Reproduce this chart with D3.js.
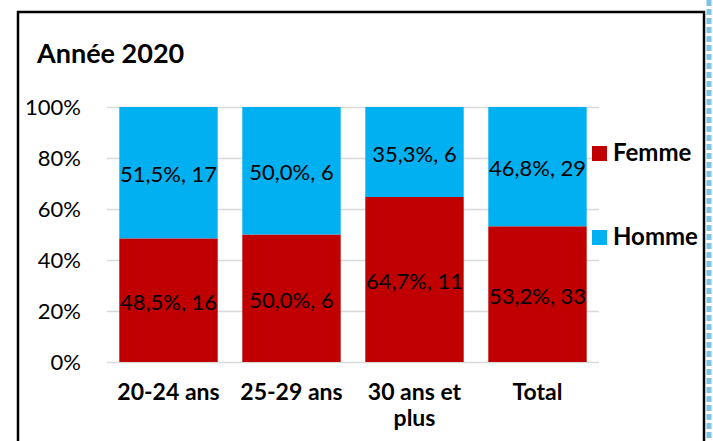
<!DOCTYPE html>
<html>
<head>
<meta charset="utf-8">
<script src="https://cdn.jsdelivr.net/npm/d3@7"></script>
<style>
  body { margin: 0; background: #fff; }
  svg text { font-family: Lato, "Open Sans", sans-serif; fill: #000; }
</style>
</head>
<body>
<div id="chart"></div>
<script>
// data
var categories = ['20-24 ans', '25-29 ans', '30 ans et plus', 'Total'];
var series = ['Femme', 'Homme'];
var femme = [16, 6, 11, 33];
var homme = [17, 6, 6, 29];
var yTicks = [0, 0.2, 0.4, 0.6, 0.8, 1];
var chartTitle = 'Année 2020';

var width = 713,
    height = 441,
    margin = { left: 107, right: 114, top: 107, bottom: 79 },
    colors = { Femme: '#c00000', Homme: '#00b0f0' };

var chartWidth = width - margin.left - margin.right;
var chartHeight = height - margin.top - margin.bottom;

var rows = categories.map(function (c, i) {
    return { key: c, Femme: femme[i], Homme: homme[i] };
});

var stacked = d3.stack()
    .keys(series)
    .order(d3.stackOrderNone)
    .offset(d3.stackOffsetExpand)(rows);

var fr = d3.formatLocale({ decimal: ',', thousands: ' ', grouping: [3], currency: ['', ' €'] });
var pct = fr.format('.1%');
var pct0 = fr.format('.0%');

var xScale = d3.scaleBand().domain(categories).range([0, chartWidth]).paddingInner(0.2).paddingOuter(0.1);
var yScale = d3.scaleLinear().domain([0, 1]).range([chartHeight, 0]);

var svg = d3.select('#chart').append('svg')
    .attr('width', width)
    .attr('height', height);

// outer frame
svg.append('rect')
    .attr('x', 18).attr('y', 12)
    .attr('width', 686).attr('height', 440)
    .attr('fill', 'none')
    .attr('stroke', '#000')
    .attr('stroke-width', 2.5);

// light blue decoration at the right edge
svg.append('line')
    .attr('x1', 709).attr('x2', 709)
    .attr('y1', 0).attr('y2', height)
    .attr('stroke', '#7cc4e6')
    .attr('stroke-width', 5)
    .attr('stroke-dasharray', '6,3');

svg.append('text')
    .attr('x', 37).attr('y', 63)
    .attr('font-size', 27)
    .attr('font-weight', 'bold')
    .text(chartTitle);

var g = svg.append('g')
    .attr('transform', 'translate(' + margin.left + ',' + margin.top + ')');

// gridlines
var yAxis = d3.axisLeft(yScale).tickValues(yTicks).tickSize(-chartWidth).tickPadding(26).tickFormat(pct0);
g.append('g').attr('class', 'axis y').call(yAxis)
    .call(function (a) {
        a.select('.domain').remove();
        a.selectAll('line').attr('stroke', '#d9d9d9').attr('stroke-width', 1.5);
        a.selectAll('text').attr('font-size', 22).attr('fill', '#000').attr('dy', '0.35em');
    });

var layers = g.append('g').selectAll('g')
    .data(stacked)
    .enter().append('g')
    .attr('fill', function (d) { return colors[d.key]; });

layers.selectAll('rect')
    .data(function (d) { return d; })
    .enter().append('rect')
    .attr('x', function (d) { return xScale(d.data.key); })
    .attr('width', xScale.bandwidth())
    .attr('y', function (d) { return yScale(d[1]); })
    .attr('height', function (d) { return yScale(d[0]) - yScale(d[1]); });

// data labels
stacked.forEach(function (s) {
    g.append('g').selectAll('text')
        .data(s)
        .enter().append('text')
        .attr('x', function (d) { return xScale(d.data.key) + xScale.bandwidth() / 2; })
        .attr('y', function (d) { return (yScale(d[0]) + yScale(d[1])) / 2 + 2; })
        .attr('dy', '0.35em')
        .attr('text-anchor', 'middle')
        .attr('font-size', 22)
        .text(function (d) { return pct(d[1] - d[0]) + ', ' + d.data[s.key]; });
});

// x axis labels
var xAxis = d3.axisBottom(xScale).tickSize(0).tickPadding(22);
g.append('g').attr('class', 'axis x')
    .attr('transform', 'translate(0,' + chartHeight + ')')
    .call(xAxis)
    .call(function (a) {
        a.select('.domain').remove();
        a.selectAll('text')
            .attr('font-size', 23)
            .attr('font-weight', 'bold')
            .attr('fill', '#000')
            .call(wrap, xScale.step());
    });

function wrap(texts, w) {
    texts.each(function () {
        var text = d3.select(this),
            words = text.text().split(/\s+/),
            line = [],
            lineNo = 0,
            y = text.attr('y'),
            dy = parseFloat(text.attr('dy')) || 0,
            tspan = text.text(null).append('tspan').attr('x', 0).attr('y', y).attr('dy', dy + 'em');
        words.forEach(function (word) {
            line.push(word);
            tspan.text(line.join(' '));
            if (tspan.node().getComputedTextLength() > w && line.length > 1) {
                line.pop();
                tspan.text(line.join(' '));
                line = [word];
                tspan = text.append('tspan').attr('x', 0).attr('y', y)
                    .attr('dy', (++lineNo * 1.1 + dy) + 'em').text(word);
            }
        });
    });
}

// legend
var legend = svg.append('g').attr('transform', 'translate(592,146)');
var items = legend.selectAll('g')
    .data(series)
    .enter().append('g')
    .attr('transform', function (d, i) { return 'translate(0,' + i * 84 + ')'; });
items.append('rect')
    .attr('width', 15).attr('height', 15)
    .attr('fill', function (d) { return colors[d]; });
items.append('text')
    .attr('x', 21).attr('y', 15)
    .attr('font-size', 24)
    .attr('font-weight', 'bold')
    .text(function (d) { return d; });
</script>
</body>
</html>
